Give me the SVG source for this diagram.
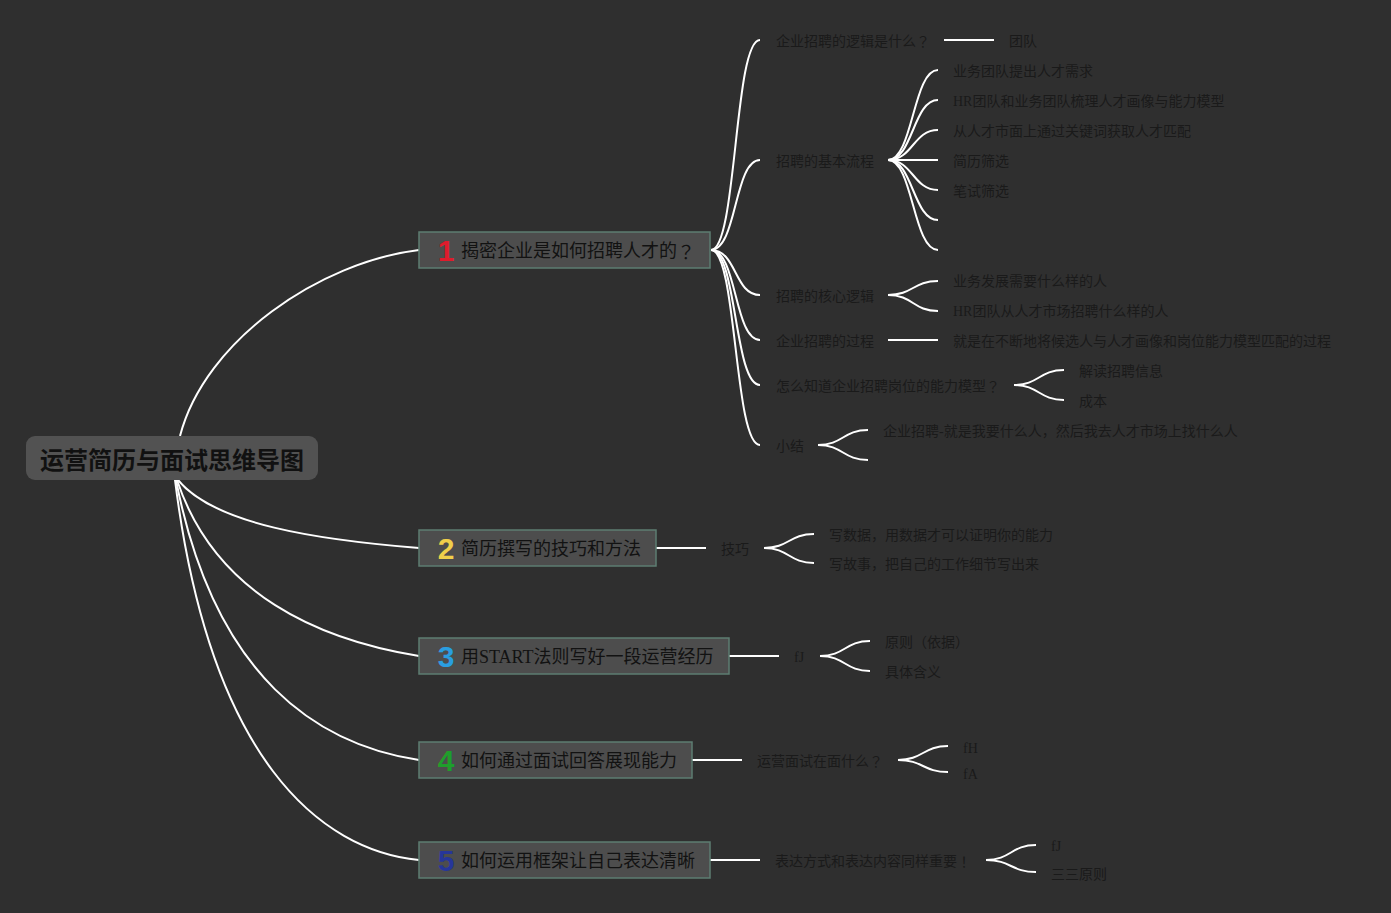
<svg xmlns="http://www.w3.org/2000/svg" width="1391" height="913" viewBox="0 0 1391 913">
<style>
.t{font-family:"Liberation Serif","Noto Sans CJK SC",serif;font-size:14px;fill:#1a1a1a;dominant-baseline:central}
.l1{font-family:"Liberation Serif","Noto Sans CJK SC",serif;font-size:18px;fill:#121212;dominant-baseline:central}
.p{font-family:"Noto Sans CJK TC",sans-serif}
.num{font-family:"Liberation Sans","Noto Sans",sans-serif;font-size:30px;font-weight:bold;text-anchor:middle;dominant-baseline:central}
.box{fill:#4d4d4d;stroke:#5d7d72;stroke-width:1.5}
.c path{fill:none;stroke:#ffffff;stroke-width:2}
</style>
<rect width="1391" height="913" fill="#2f2f2f"/>
<g class="c" id="connectors">
<path d="M180,436 C205,340 320,262 419,250"/>
<path d="M178,480 C215,525 320,540 419,548"/>
<path d="M177,480 C215,595 320,640 419,656"/>
<path d="M176,480 C215,680 320,745 419,760"/>
<path d="M175,480 C210,760 320,850 419,860"/>
<path d="M711,250 C737,250 734,40 760,40"/>
<path d="M711,250 C737,250 734,160 760,160"/>
<path d="M711,250 C737,250 734,295 760,295"/>
<path d="M711,250 C737,250 734,340 760,340"/>
<path d="M711,250 C737,250 734,385 760,385"/>
<path d="M711,250 C737,250 734,445 760,445"/>
<path d="M944,40 L994,40"/>
<path d="M888,160 C913,160 913,70 938,70"/>
<path d="M888,160 C913,160 913,100 938,100"/>
<path d="M888,160 C913,160 913,130 938,130"/>
<path d="M888,160 L938,160"/>
<path d="M888,160 C913,160 913,190 938,190"/>
<path d="M888,160 C913,160 913,220 938,220"/>
<path d="M888,160 C913,160 913,250 938,250"/>
<path d="M888,295 C913,295 913,281 938,281"/>
<path d="M888,295 C913,295 913,311 938,311"/>
<path d="M888,340 L938,340"/>
<path d="M1014,385 C1039,385 1039,370 1064,370"/>
<path d="M1014,385 C1039,385 1039,400 1064,400"/>
<path d="M818,445 C843,445 843,430 868,430"/>
<path d="M818,445 C843,445 843,460 868,460"/>
<path d="M656,548 L706,548"/>
<path d="M764,548 C789,548 789,534 814,534"/>
<path d="M764,548 C789,548 789,563 814,563"/>
<path d="M729,656 L779,656"/>
<path d="M820,656 C845,656 845,641 870,641"/>
<path d="M820,656 C845,656 845,671 870,671"/>
<path d="M692,760 L742,760"/>
<path d="M898,760 C923,760 923,746 948,746"/>
<path d="M898,760 C923,760 923,772 948,772"/>
<path d="M710,860 L760,860"/>
<path d="M986,860 C1011,860 1011,845 1036,845"/>
<path d="M986,860 C1011,860 1011,872 1036,872"/>
</g>
<g id="root">
<rect x="26" y="436" width="292" height="44" rx="9" fill="#525252"/>
<text x="172" y="460" text-anchor="middle" style="font-family:'Liberation Sans','Noto Sans CJK SC',sans-serif;font-size:24px;font-weight:bold;fill:#111;dominant-baseline:central">运营简历与面试思维导图</text>
</g>
<g id="n1">
<rect class="box" x="419" y="232" width="291" height="36"/>
<text class="num" x="446" y="250" fill="#de1c2c">1</text>
<text class="l1" x="461" y="251">揭密企业是如何招聘人才的<tspan class="p">？</tspan></text>
</g>
<g id="n1a"><text class="t" x="776" y="41">企业招聘的逻辑是什么<tspan class="p">？</tspan></text></g>
<g id="n1a1"><text class="t" x="1009" y="41">团队</text></g>
<g id="n1b"><text class="t" x="776" y="161">招聘的基本流程</text></g>
<g id="n1b1"><text class="t" x="953" y="71">业务团队提出人才需求</text></g>
<g id="n1b2"><text class="t" x="953" y="101">HR团队和业务团队梳理人才画像与能力模型</text></g>
<g id="n1b3"><text class="t" x="953" y="131">从人才市面上通过关键词获取人才匹配</text></g>
<g id="n1b4"><text class="t" x="953" y="161">简历筛选</text></g>
<g id="n1b5"><text class="t" x="953" y="191">笔试筛选</text></g>
<g id="n1c"><text class="t" x="776" y="296">招聘的核心逻辑</text></g>
<g id="n1c1"><text class="t" x="953" y="281">业务发展需要什么样的人</text></g>
<g id="n1c2"><text class="t" x="953" y="311">HR团队从人才市场招聘什么样的人</text></g>
<g id="n1d"><text class="t" x="776" y="341">企业招聘的过程</text></g>
<g id="n1d1"><text class="t" x="953" y="341">就是在不断地将候选人与人才画像和岗位能力模型匹配的过程</text></g>
<g id="n1e"><text class="t" x="776" y="386">怎么知道企业招聘岗位的能力模型<tspan class="p">？</tspan></text></g>
<g id="n1e1"><text class="t" x="1079" y="371">解读招聘信息</text></g>
<g id="n1e2"><text class="t" x="1079" y="401">成本</text></g>
<g id="n1f"><text class="t" x="776" y="446">小结</text></g>
<g id="n1f1"><text class="t" x="883" y="431">企业招聘-就是我要什么人，然后我去人才市场上找什么人</text></g>
<g id="n2">
<rect class="box" x="419" y="530" width="237" height="36"/>
<text class="num" x="446" y="548" fill="#f0cf4a">2</text>
<text class="l1" x="461" y="549">简历撰写的技巧和方法</text>
</g>
<g id="n2a"><text class="t" x="721" y="549">技巧</text></g>
<g id="n2a1"><text class="t" x="829" y="535">写数据，用数据才可以证明你的能力</text></g>
<g id="n2a2"><text class="t" x="829" y="564">写故事，把自己的工作细节写出来</text></g>
<g id="n3">
<rect class="box" x="419" y="638" width="310" height="36"/>
<text class="num" x="446" y="656" fill="#2a9ee0">3</text>
<text class="l1" x="461" y="657">用START法则写好一段运营经历</text>
</g>
<g id="n3a"><text class="t" x="794" y="657">fJ</text></g>
<g id="n3a1"><text class="t" x="885" y="642">原则（依据）</text></g>
<g id="n3a2"><text class="t" x="885" y="672">具体含义</text></g>
<g id="n4">
<rect class="box" x="419" y="742" width="273" height="36"/>
<text class="num" x="446" y="760" fill="#1f9e2c">4</text>
<text class="l1" x="461" y="761">如何通过面试回答展现能力</text>
</g>
<g id="n4a"><text class="t" x="757" y="761">运营面试在面什么<tspan class="p">？</tspan></text></g>
<g id="n4a1"><text class="t" x="963" y="748">fH</text></g>
<g id="n4a2"><text class="t" x="963" y="774">fA</text></g>
<g id="n5">
<rect class="box" x="419" y="842" width="291" height="36"/>
<text class="num" x="446" y="860" fill="#26369a">5</text>
<text class="l1" x="461" y="861">如何运用框架让自己表达清晰</text>
</g>
<g id="n5a"><text class="t" x="775" y="861">表达方式和表达内容同样重要<tspan class="p">！</tspan></text></g>
<g id="n5a1"><text class="t" x="1051" y="846">fJ</text></g>
<g id="n5a2"><text class="t" x="1051" y="874">三三原则</text></g>
</svg>
